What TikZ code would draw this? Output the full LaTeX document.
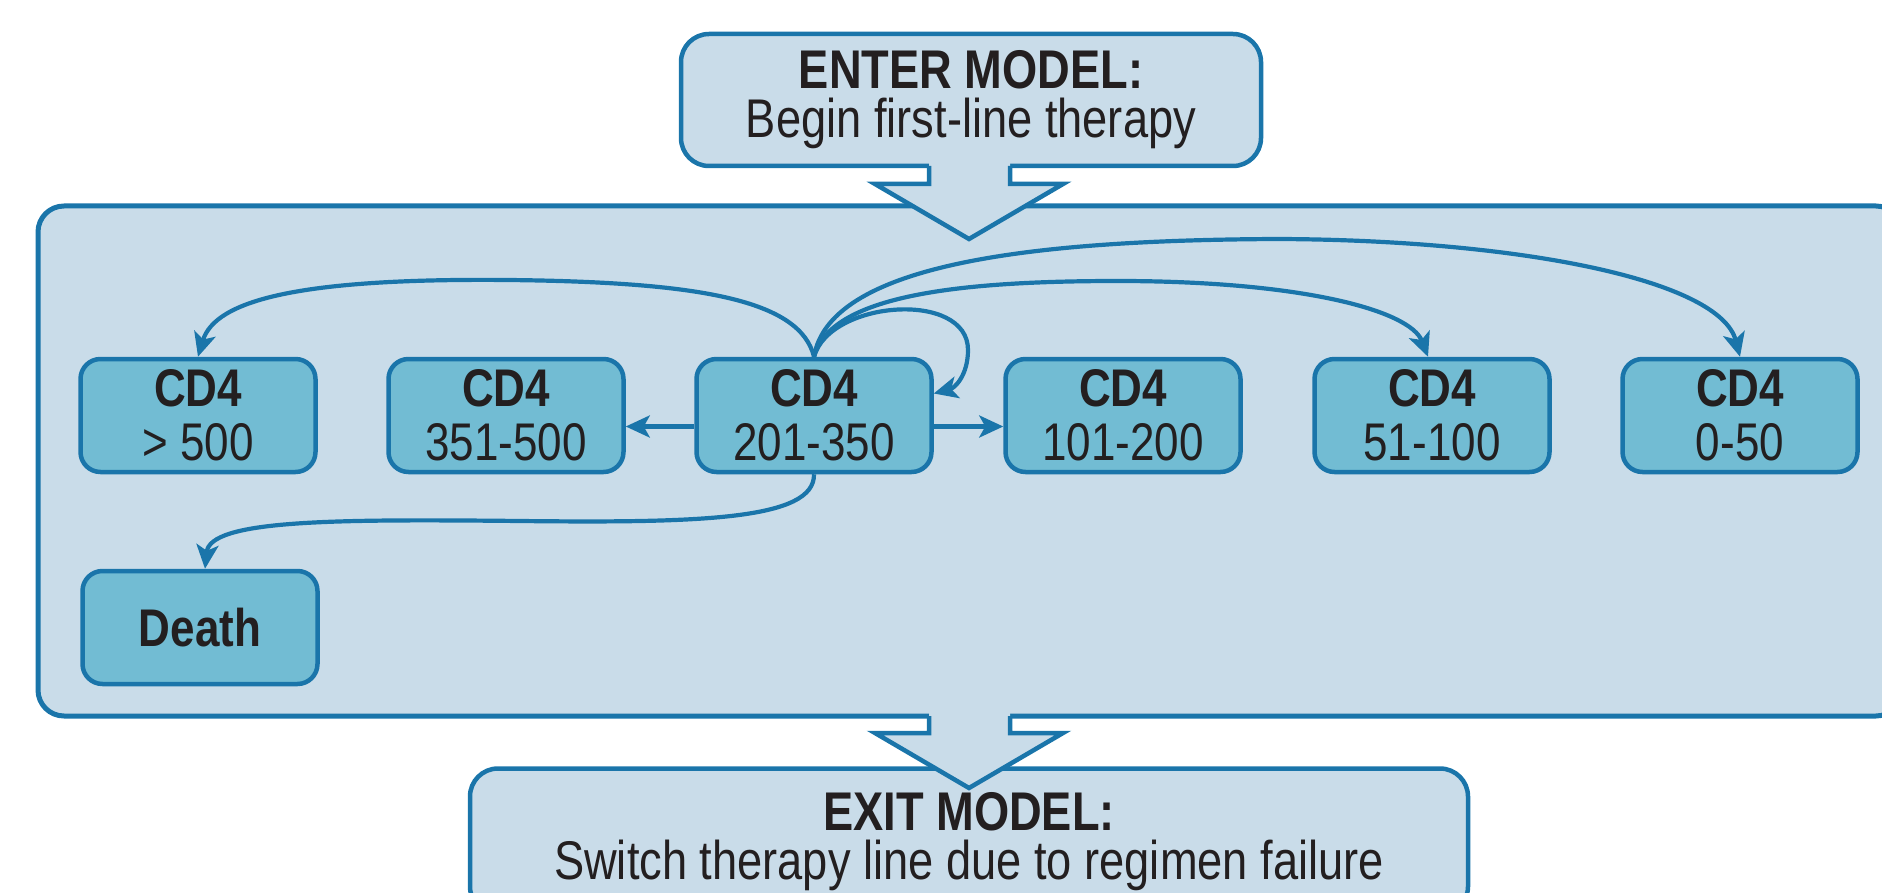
\documentclass[tikz,border=0pt]{standalone}
\usepackage{fontspec}
\setmainfont{Liberation Sans}[FakeStretch=0.83]
\usetikzlibrary{arrows.meta}
\definecolor{bord}{HTML}{1A75AA}
\definecolor{pale}{HTML}{C9DCE9}
\definecolor{cell}{HTML}{72BCD3}
\definecolor{ink}{HTML}{231F20}
\begin{document}
\begin{tikzpicture}[x=1pt,y=-1pt,
  state/.style={draw=bord, line width=4.5pt, fill=cell, rounded corners=20pt,
    minimum width=235pt, minimum height=113pt, inner sep=0pt, align=center,
    text=ink, font=\fontsize{53}{54}\selectfont},
  model/.style={draw=bord, line width=4.5pt, fill=pale, rounded corners=28pt,
    inner sep=0pt, align=center, text=ink, font=\fontsize{54.5}{49}\selectfont},
  container/.style={draw=bord, line width=5pt, fill=pale, rounded corners=26pt, inner sep=0pt},
  conn/.style={draw=bord, line width=4.2pt, -{Stealth[length=24pt,width=22pt,inset=6pt]}},
  bigarrow/.style={draw=bord, line width=4.5pt, line join=miter},
]
\useasboundingbox (0,0) rectangle (1882,893);

% enter box
\node[model, minimum width=580pt, minimum height=132pt] (enter) at (971,100)
  {\bfseries ENTER MODEL:\\Begin first-line therapy};

% main container
\node[container, minimum width=1864pt, minimum height=510pt] (frame) at (970,461) {};

% enter arrow
\fill[pale] (929,150) -- (929,184) -- (875,184) -- (969,239) -- (1063,184) -- (1010,184) -- (1010,150) -- cycle;
\draw[bigarrow] (929,166) -- (929,184) -- (875,184) -- (969,239) -- (1063,184) -- (1010,184) -- (1010,166);

% states
\node[state] (b1) at (198,415.5) {\bfseries CD4\\> 500};
\node[state] (b2) at (506,415.5) {\bfseries CD4\\351-500};
\node[state] (b3) at (814,415.5) {\bfseries CD4\\201-350};
\node[state] (b4) at (1123,415.5) {\bfseries CD4\\101-200};
\node[state] (b5) at (1432,415.5) {\bfseries CD4\\51-100};
\node[state] (b6) at (1740,415.5) {\bfseries CD4\\0-50};
\node[state] (death) at (200,627.5) {\bfseries Death};

% connectors
\draw[conn] (b3.north) .. controls (800,300) and (700,282) .. (508,280)
  .. controls (300,278) and (215,300) .. (b1.north);
\draw[conn] (b3.north) .. controls (830,260) and (1050,240) .. (1278,239)
  .. controls (1520,240) and (1720,280) .. (b6.north);
\draw[conn] (b3.north) .. controls (830,295) and (960,281) .. (1118,281)
  .. controls (1300,281) and (1410,310) .. ([xshift=-4pt]b5.north);
\draw[conn] (b3.north) .. controls (830,300) and (968,290) .. (968,350)
  .. controls (968,375) and (955,388) .. ([yshift=22pt]b3.east);
\draw[conn] ([yshift=-11pt]b3.west) -- ([yshift=-11pt]b2.east);
\draw[conn] ([yshift=-11pt]b3.east) -- ([yshift=-11pt]b4.west);
\draw[conn] (b3.south) .. controls (815,520) and (700,523) .. (520,521)
  .. controls (330,519) and (210,520) .. ([xshift=5pt]death.north);

% exit box
\node[model, minimum width=998pt, minimum height=146pt] (exit) at (969,841.5)
  {\bfseries EXIT MODEL:\\Switch therapy line due to regimen failure};

% exit arrow
\fill[pale] (929,700) -- (929,733) -- (875,733) -- (969,788) -- (1063,733) -- (1010,733) -- (1010,700) -- cycle;
\draw[bigarrow] (929,716) -- (929,733) -- (875,733) -- (969,788) -- (1063,733) -- (1010,733) -- (1010,716);
\end{tikzpicture}
\end{document}
